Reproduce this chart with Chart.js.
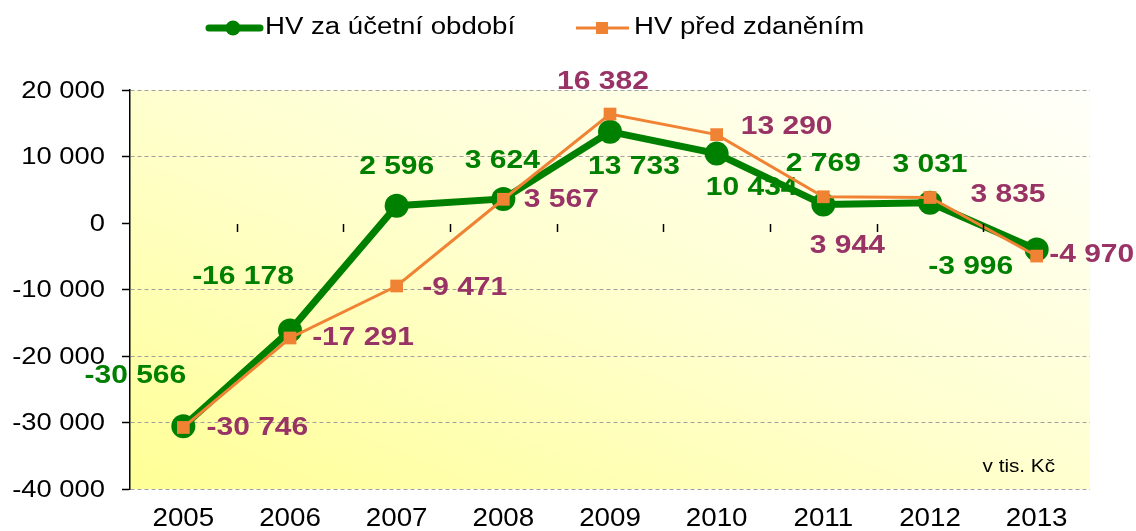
<!DOCTYPE html>
<html lang="cs">
<head>
  <meta charset="UTF-8">
  <title>HV za účetní období</title>
  <script src="https://cdn.jsdelivr.net/npm/chart.js"></script>
  <style>
    html, body { margin: 0; padding: 0; background: #fff; }
    #wrap { width: 1136px; height: 531px; }
  </style>
</head>
<body>
  <div id="wrap"><canvas id="hvChart" width="1136" height="531"></canvas></div>
  <script>
    // data (tis. Kč)
    const years = ['2005', '2006', '2007', '2008', '2009', '2010', '2011', '2012', '2013'];
    const hvObdobi = [-30566, -16178, 2596, 3624, 13733, 10434, 2769, 3031, -3996];
    const hvPredZdanenim = [-30746, -17291, -9471, 3567, 16382, 13290, 3944, 3835, -4970];
    const yTicks = [20000, 10000, 0, -10000, -20000, -30000, -40000];

    // label offsets from each point (px), centre of text
    const greenLabelOffsets = [[-48, -50], [-47, -53], [0, -39], [-1, -38], [24, 35], [35, 34], [0, -40], [0, -38], [-66, 18]];
    const orangeLabelOffsets = [[74, 1], [73, 0], [68, 2], [58, 1], [-7, -32], [70, -8], [24, 49], [78, -2], [55, -1]];

    const fmt = v => {
      const s = Math.abs(v).toString().replace(/\B(?=(\d{3})+(?!\d))/g, ' ');
      return (v < 0 ? '-' : '') + s;
    };

    const GREEN = '#008000';
    const ORANGE = '#F08234';
    const PURPLE = '#993366';
    const FONT = '"Liberation Sans", Arial, sans-serif';

    // text is a little wider in the original, so stretch it sideways
    function text(ctx, str, x, y, align, sx) {
      ctx.save();
      ctx.translate(x, y);
      ctx.scale(sx, 1);
      ctx.textAlign = align;
      ctx.textBaseline = 'middle';
      ctx.fillText(str, 0, 0);
      ctx.restore();
    }

    const bgPlugin = {
      id: 'bg',
      beforeDraw(chart) {
        const { ctx, chartArea: a } = chart;
        const w = a.right - a.left, h = a.bottom - a.top;
        ctx.save();
        ctx.translate(a.left, a.top);
        ctx.scale(w, h);
        const g = ctx.createLinearGradient(0, 1, 1, 0);
        g.addColorStop(0, '#ffff96');
        g.addColorStop(0.5, '#ffffcf');
        g.addColorStop(1, '#fffffb');
        ctx.fillStyle = g;
        ctx.fillRect(0, 0, 1, 1);
        ctx.restore();
      }
    };

    const labelsPlugin = {
      id: 'valueLabels',
      beforeDatasetsDraw(chart) {
        const { ctx } = chart;
        ctx.save();
        ctx.font = 'bold 25px ' + FONT;
        const drawLabels = (idx, values, offs, color) => {
          const meta = chart.getDatasetMeta(idx);
          ctx.fillStyle = color;
          meta.data.forEach((pt, i) => {
            text(ctx, fmt(values[i]), pt.x + offs[i][0], pt.y + offs[i][1], 'center', 1.2);
          });
        };
        drawLabels(0, hvObdobi, greenLabelOffsets, GREEN);
        drawLabels(1, hvPredZdanenim, orangeLabelOffsets, PURPLE);
        ctx.restore();
      }
    };

    const extrasPlugin = {
      id: 'extras',
      afterDraw(chart) {
        const { ctx, chartArea: a } = chart;
        const x = chart.scales.x, y = chart.scales.y;
        ctx.save();
        // small ticks on the zero line between categories
        const y0 = y.getPixelForValue(0);
        ctx.strokeStyle = '#000';
        ctx.lineWidth = 1.5;
        for (let i = 1; i < years.length; i++) {
          const px = Math.round((x.getPixelForValue(i) + x.getPixelForValue(i - 1)) / 2) + 0.5;
          ctx.beginPath();
          ctx.moveTo(px, y0 + 1);
          ctx.lineTo(px, y0 + 9);
          ctx.stroke();
        }
        // axis labels
        ctx.fillStyle = '#000';
        ctx.font = '24px ' + FONT;
        yTicks.forEach(v => text(ctx, fmt(v), a.left - 25, y.getPixelForValue(v) + 1, 'right', 1.14));
        ctx.font = '25px ' + FONT;
        years.forEach((yr, i) => text(ctx, yr, x.getPixelForValue(i), a.bottom + 30, 'center', 1.11));
        // unit note
        ctx.font = '18px ' + FONT;
        text(ctx, 'v tis. Kč', a.right - 35, a.bottom - 22, 'right', 1.15);
        // legend
        ctx.font = '23px ' + FONT;
        const ly = 28;
        ctx.strokeStyle = GREEN; ctx.lineWidth = 7; ctx.lineCap = 'round';
        ctx.beginPath(); ctx.moveTo(209, ly); ctx.lineTo(260, ly); ctx.stroke();
        ctx.fillStyle = GREEN;
        ctx.beginPath(); ctx.arc(233, ly, 7.5, 0, Math.PI * 2); ctx.fill();
        ctx.fillStyle = '#000';
        text(ctx, 'HV za účetní období', 265, ly, 'left', 1.2);
        ctx.strokeStyle = ORANGE; ctx.lineWidth = 3; ctx.lineCap = 'butt';
        ctx.beginPath(); ctx.moveTo(576, ly); ctx.lineTo(629, ly); ctx.stroke();
        ctx.fillStyle = ORANGE;
        ctx.fillRect(596, ly - 6, 12, 12);
        ctx.fillStyle = '#000';
        text(ctx, 'HV před zdaněním', 634, ly, 'left', 1.2);
        ctx.restore();
      }
    };

    const ctx = document.getElementById('hvChart').getContext('2d');
    new Chart(ctx, {
      type: 'line',
      data: {
        labels: years,
        datasets: [{
          label: 'HV za účetní období',
          data: hvObdobi,
          borderColor: GREEN,
          backgroundColor: GREEN,
          borderWidth: 7,
          pointRadius: 12,
          pointBorderWidth: 0,
          pointStyle: 'circle',
          order: 1
        }, {
          label: 'HV před zdaněním',
          data: hvPredZdanenim,
          borderColor: ORANGE,
          backgroundColor: ORANGE,
          borderWidth: 3,
          pointRadius: 9,
          pointBorderWidth: 0,
          pointStyle: 'rect',
          order: 0
        }]
      },
      options: {
        responsive: false,
        animation: false,
        layout: { padding: { top: 90, right: 46, left: 0, bottom: 0 } },
        plugins: {
          legend: { display: false },
          tooltip: { enabled: false }
        },
        scales: {
          x: {
            offset: true,
            grid: { display: false },
            border: { display: false },
            ticks: { display: false },
            afterFit(scale) { scale.height = 42; }
          },
          y: {
            min: -40000,
            max: 20000,
            afterBuildTicks(scale) { scale.ticks = yTicks.map(v => ({ value: v })); },
            grid: {
              color: c => (c.tick && c.tick.value === 0) ? 'rgba(0,0,0,0)' : '#a0a0a0',
              lineWidth: 1,
              tickColor: '#000',
              tickLength: 8,
              tickWidth: 1.5
            },
            border: { display: true, color: '#000', width: 1.5, dash: [4, 3] },
            ticks: { display: false },
            afterFit(scale) { scale.width = 130; }
          }
        }
      },
      plugins: [bgPlugin, labelsPlugin, extrasPlugin]
    });
  </script>
</body>
</html>
